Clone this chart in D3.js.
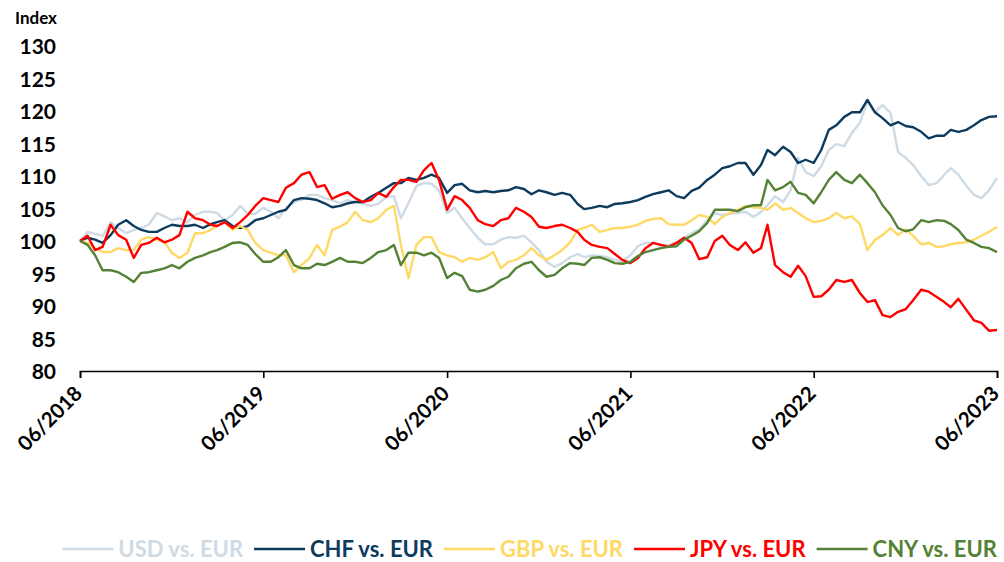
<!DOCTYPE html>
<html>
<head>
<meta charset="utf-8">
<script src="https://cdn.jsdelivr.net/npm/d3@7"></script>
<style>
  html, body { margin: 0; padding: 0; background: #fff; }
  svg { display: block; }
  text { font-family: Lato, "Open Sans", sans-serif; font-weight: 700; fill: #000; }
</style>
</head>
<body>
<svg id="chart" width="1004" height="562"></svg>
<script>
// ---- Data (index, 06/2018 = 100), semi-monthly readings ----
const seriesNames = ["USD vs. EUR", "CHF vs. EUR", "GBP vs. EUR", "JPY vs. EUR", "CNY vs. EUR"];
const seriesColors = ["#cfdbe4", "#0d3b5e", "#ffd966", "#ff0000", "#548235"];
const yTicks = [80, 85, 90, 95, 100, 105, 110, 115, 120, 125, 130];
const xTickLabels = ["06/2018", "06/2019", "06/2020", "06/2021", "06/2022", "06/2023"];

const usd = [100.0,101.4,101.1,100.8,102.9,102.0,101.2,101.7,102.0,102.5,104.3,103.8,103.2,103.5,102.9,104.0,104.5,104.5,104.3,103.2,104.0,105.4,104.2,104.2,105.1,104.5,103.5,105.1,106.0,106.3,107.1,107.1,106.6,106.3,105.8,106.3,106.0,105.7,105.4,105.7,106.8,106.9,103.5,105.8,108.5,108.9,108.8,107.8,104.3,105.1,103.5,102.0,100.5,99.5,99.5,100.2,100.6,100.5,100.8,99.8,98.6,96.8,96.0,96.6,97.5,98.0,97.5,97.8,97.7,97.5,97.1,96.9,97.8,99.2,99.7,99.7,99.2,99.4,99.8,100.5,101.2,101.8,103.2,104.3,104.0,104.2,104.3,104.5,103.7,104.5,105.5,106.9,106.0,107.8,112.8,110.6,110.0,111.5,114.0,114.9,114.6,116.6,118.2,121.4,119.8,120.9,119.7,113.7,112.8,111.7,110.0,108.6,108.9,110.2,111.2,110.2,108.5,107.1,106.6,107.8,109.7];
const chf = [100.0,100.5,100.2,99.7,100.9,102.5,103.2,102.3,101.7,101.4,101.4,102.0,102.5,102.3,102.3,102.5,102.0,102.6,102.9,103.2,102.3,102.0,102.3,103.2,103.5,104.0,104.5,104.8,106.3,106.6,106.5,106.3,105.8,105.2,105.4,105.8,106.0,106.0,106.8,107.4,108.2,108.9,108.9,109.7,109.4,109.7,110.2,109.7,107.4,108.6,108.8,107.8,107.5,107.7,107.5,107.7,107.8,108.3,108.0,107.2,107.8,107.5,107.1,107.4,107.1,105.7,104.9,105.1,105.4,105.2,105.7,105.8,106.0,106.3,106.8,107.2,107.5,107.8,106.9,106.6,107.7,108.2,109.4,110.2,111.2,111.5,112.0,112.0,110.2,111.7,114.0,113.2,114.5,113.7,112.0,112.5,112.0,114.0,117.1,117.8,119.1,119.8,119.8,121.7,119.8,118.9,117.8,118.3,117.7,117.5,116.8,115.8,116.2,116.2,117.1,116.8,117.1,117.8,118.6,119.1,119.2];
const gbp = [100.0,99.7,98.9,98.3,98.3,98.9,98.6,98.6,100.2,100.6,100.2,99.8,98.2,97.4,98.2,101.2,101.2,101.7,102.3,102.9,101.7,102.3,101.7,99.7,98.6,98.2,97.8,97.8,95.2,96.3,97.4,99.4,97.8,101.7,102.2,102.9,104.5,103.2,102.9,103.5,104.8,105.4,99.4,94.3,99.4,100.6,100.6,98.3,97.8,97.5,96.8,97.4,97.1,97.5,98.3,95.8,96.8,97.1,97.8,98.9,97.8,97.1,97.8,98.6,99.8,101.7,102.0,102.5,101.4,101.7,102.0,102.0,102.2,102.5,103.1,103.4,103.5,102.6,102.5,102.5,103.2,104.0,103.7,102.6,103.7,104.3,104.8,105.4,105.2,105.1,104.8,105.8,104.8,105.1,104.3,103.5,102.9,103.1,103.5,104.3,103.5,103.8,102.6,98.6,100.2,100.9,102.0,100.9,101.8,100.8,99.5,99.7,99.1,99.2,99.5,99.7,99.8,100.2,100.8,101.4,102.2];
const jpy = [100.0,100.8,98.6,99.1,102.5,100.9,100.2,97.4,99.4,99.7,100.5,99.8,100.2,100.9,104.5,103.5,103.2,102.5,102.3,102.9,102.0,102.9,104.0,105.4,106.6,106.3,106.0,108.2,108.9,110.2,110.6,108.3,108.6,106.5,107.1,107.5,106.6,106.0,106.3,107.4,106.8,108.3,109.4,109.4,109.1,110.9,112.0,109.4,104.8,106.9,106.3,105.1,103.2,102.6,102.3,103.2,103.5,105.1,104.5,103.7,102.2,102.0,102.3,102.5,102.0,101.4,100.2,99.4,99.1,98.9,98.0,97.1,96.6,97.4,98.9,99.7,99.4,99.1,99.7,100.5,99.7,97.2,97.5,100.0,100.8,99.4,98.6,99.8,98.2,98.9,102.5,96.3,95.2,94.5,96.2,94.6,91.4,91.5,92.5,94.0,93.7,94.0,92.0,90.6,90.9,88.6,88.3,89.1,89.5,90.9,92.5,92.2,91.4,90.6,89.8,91.1,89.4,87.8,87.4,86.2,86.3];
const cny = [100.0,99.4,97.8,95.5,95.5,95.2,94.5,93.7,95.1,95.2,95.5,95.8,96.3,95.8,96.8,97.4,97.8,98.3,98.6,99.1,99.7,99.8,99.4,98.0,96.8,96.8,97.5,98.6,96.3,95.8,95.8,96.5,96.3,96.8,97.4,96.8,96.8,96.6,97.4,98.3,98.6,99.4,96.3,98.2,98.2,97.8,98.2,97.4,94.3,95.1,94.6,92.5,92.2,92.5,93.1,94.0,94.5,95.8,96.5,96.8,95.5,94.5,94.8,95.8,96.6,96.5,96.3,97.4,97.5,97.1,96.6,96.5,96.8,97.7,98.3,98.6,98.9,99.1,99.2,100.2,100.8,101.5,102.8,104.8,104.8,104.8,104.6,105.2,105.5,105.5,109.4,107.8,108.3,109.1,107.4,107.1,105.8,107.5,109.4,110.6,109.4,108.9,110.2,108.9,107.5,105.5,104.0,102.0,101.5,101.8,103.2,102.9,103.2,103.1,102.6,101.7,100.2,99.7,99.1,98.9,98.3];

// Semi-monthly observation dates (1st and 16th of each month), 06/2018 .. 06/2023
const dates = [];
d3.utcMonths(new Date(Date.UTC(2018, 5, 1)), new Date(Date.UTC(2023, 5, 1))).forEach(m => {
  dates.push(m);
  dates.push(new Date(Date.UTC(m.getUTCFullYear(), m.getUTCMonth(), 16)));
});
dates.push(new Date(Date.UTC(2023, 5, 1)));

const seriesValues = [usd, chf, gbp, jpy, cny];

// ---- Layout ----
const svg = d3.select("#chart");
const x = d3.scaleUtc()
  .domain([new Date(Date.UTC(2018, 5, 1)), new Date(Date.UTC(2023, 5, 1))])
  .range([80, 997]);
const y = d3.scaleLinear().domain([80, 130]).range([371, 46]);

// Y axis (labels only)
const yAxis = svg.append("g")
  .attr("transform", "translate(56,0)")
  .call(d3.axisLeft(y).tickValues(yTicks).tickSize(0).tickPadding(0).tickFormat(d3.format("d")));
yAxis.select(".domain").remove();
yAxis.selectAll("text")
  .style("font-family", "Lato, sans-serif").style("font-weight", "700")
  .style("font-size", "21px").attr("fill", "#000").attr("dy", "0.36em");

svg.append("text").attr("x", 15).attr("y", 24).style("font-size", "17px").text("Index");

// X axis
const xTickDates = xTickLabels.map(s => new Date(Date.UTC(+s.slice(3), +s.slice(0, 2) - 1, 1)));
const xAxis = svg.append("g")
  .attr("transform", "translate(0,371)")
  .call(d3.axisBottom(x).tickValues(xTickDates).tickSize(7).tickPadding(0)
    .tickFormat((d, i) => xTickLabels[i]));
xAxis.select(".domain").attr("stroke", "#000").attr("stroke-width", 1.6);
xAxis.selectAll(".tick line").attr("stroke", "#000").attr("stroke-width", 1.6);
xAxis.selectAll("text")
  .style("font-family", "Lato, sans-serif").style("font-weight", "700").style("font-size", "20.5px")
  .attr("fill", "#000")
  .attr("text-anchor", "end")
  .attr("dy", "0")
  .attr("transform", "translate(-2,19) rotate(-45)");

// Lines
const line = d3.line().x((d, i) => x(dates[i])).y(d => y(d));
seriesValues.forEach((vals, k) => {
  svg.append("path")
    .datum(vals)
    .attr("fill", "none")
    .attr("stroke", seriesColors[k])
    .attr("stroke-width", 2.4)
    .attr("stroke-linejoin", "round")
    .attr("d", line);
});

// Legend (right-aligned, one row)
const legend = svg.append("g");
const items = seriesNames.map((name, k) => {
  const g = legend.append("g");
  g.append("line").attr("x1", 0).attr("x2", 51).attr("y1", 0).attr("y2", 0)
    .attr("stroke", seriesColors[k]).attr("stroke-width", 2.6);
  const t = g.append("text").attr("x", 56).attr("y", 0).attr("dy", "0.35em")
    .style("font-size", "22px").attr("fill", seriesColors[k]).style("fill", seriesColors[k]).text(name);
  return { g, w: 56 + t.node().getComputedTextLength() };
});
const gap = 11;
let total = items.reduce((s, it) => s + it.w, 0) + gap * (items.length - 1);
let cx = 997 - total;
items.forEach(it => { it.g.attr("transform", `translate(${cx},549)`); cx += it.w + gap; });
</script>
</body>
</html>
